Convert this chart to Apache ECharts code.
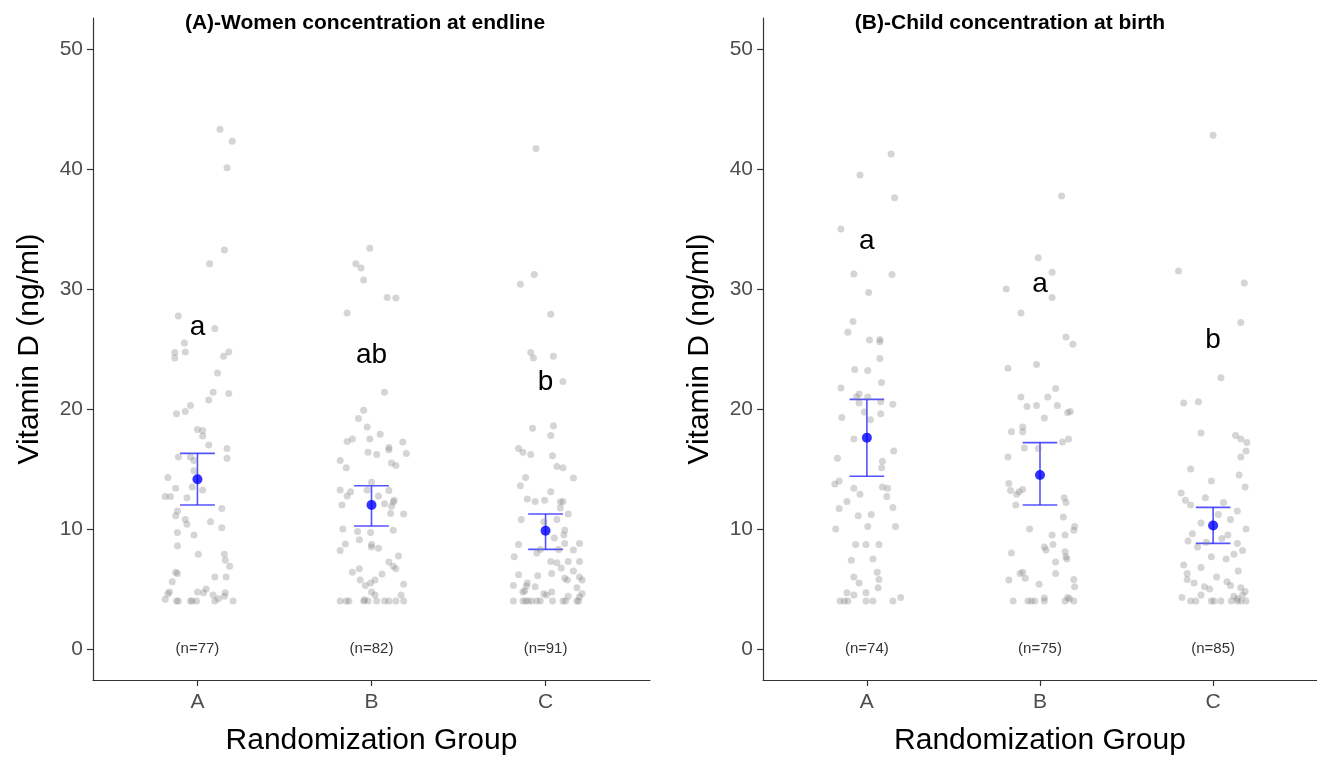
<!DOCTYPE html>
<html>
<head>
<meta charset="utf-8">
<style>
  html, body { margin: 0; padding: 0; background: #fff; }
  #chart { width: 1317px; height: 764px; }
</style>
<script src="https://cdn.jsdelivr.net/npm/echarts@6.0.0/dist/echarts.min.js"></script>
</head>
<body>
<div id="chart"></div>
<script>
// groups on the x axis
const groups = ['A', 'B', 'C'];
const yTicks = [0, 10, 20, 30, 40, 50];

// jittered observations: [horizontal jitter, vitamin D]
const womenA = [[0.13,43.3],[0.20,42.3],[0.17,40.1],[0.155,33.25],[0.07,32.1],[-0.11,27.75],[0.10,26.7],[-0.075,25.5],[-0.13,24.7],[-0.13,24.25],[-0.07,24.75],[0.15,24.4],[0.18,24.75],[0.115,23.0],[0.09,21.4],[0.18,21.3],[0.065,20.75],[-0.04,20.3],[-0.07,19.8],[-0.12,19.6],
  [0,18.3],[0.03,18.2],[0.03,17.75],[0.065,17.0],[0.17,16.7],[0.17,15.9],[-0.11,16.0],[-0.04,16.0],[-0.02,15.7],[-0.02,14.85],[-0.17,14.3],[-0.125,13.4],[-0.03,13.5],[0.03,13.25],[-0.185,12.7],[-0.155,12.7],[-0.06,12.6],[0.14,11.7],[-0.115,11.5],[-0.125,11.1],[-0.07,10.8],[-0.06,10.4],[0.075,10.6],[0.14,10.1],[-0.115,9.7],[-0.02,9.5],[-0.115,8.6],[0.005,7.9],[0.155,7.9],[0.16,7.4],[0.185,6.9],[-0.125,6.4],[-0.115,6.3],[0.10,6.0],[0.165,6.0],[-0.145,5.6],[-0.16,4.75],[-0.17,4.6],[0,4.75],[0.05,5.0],[0.035,4.7],[0.09,4.5],[0.16,4.7],[0.155,4.4],[-0.185,4.15],[-0.11,4.0],[-0.12,4.0],[-0.04,4.0],[-0.03,4.0],[-0.005,4.0],[0.1,4.0],[0.12,4.2],[0.205,4.0]];
const womenB = [[-0.01,33.4],[-0.09,32.1],[-0.06,31.75],[-0.045,30.75],[0.09,29.3],[0.14,29.25],[-0.14,28.0],[0.075,21.4],[-0.045,19.9],[-0.075,19.2],[-0.025,18.5],[0.05,17.9],[-0.14,17.3],[-0.11,17.5],[-0.01,17.5],[0.1,16.8],[0.1,16.6],[0.18,17.25],[0.2,16.3],[-0.02,16.4],[0.03,16.2],[-0.18,15.7],[0.115,15.5],[0.14,15.3],[-0.145,15.1],[0,13.9],[-0.18,13.25],[-0.12,13.1],[-0.14,12.75],[-0.025,13.25],[0.1,13.2],[0.04,12.75],[-0.17,12.0],[0.075,12.1],[0.125,12.25],[0.13,12.4],[0.115,11.9],[0.185,11.25],[0.11,11.3],[-0.165,10.0],[-0.08,9.8],[-0.005,9.7],[0.125,9.9],[-0.15,8.75],[-0.07,9.1],[0,8.7],[0,8.5],[0.04,8.4],[-0.18,8.2],[0.155,7.75],[0.1,7.25],[0.125,6.9],[0.14,6.7],[-0.11,6.4],[-0.07,6.7],[0.06,6.25],[-0.065,5.75],[-0.005,5.5],[-0.035,5.3],[0.02,5.75],[0.185,5.4],[0,4.75],[0.02,4.5],[0.17,4.5],[-0.18,4.0],[-0.145,4.0],[-0.13,4.0],[-0.045,4.0],[-0.04,4.1],[-0.02,4.0],[0.03,4.0],[0.075,4.0],[0.1,4.0],[0.14,4.0],[0.185,4.0]];
const womenC = [[-0.055,41.7],[-0.065,31.2],[-0.145,30.4],[0.03,27.9],[-0.085,24.7],[-0.07,24.25],[0.045,24.4],[0.1,22.3],[-0.075,18.4],[0.045,18.6],[0.03,17.8],[-0.155,16.7],[-0.13,16.4],[-0.085,16.2],[0.04,16.1],[0.065,15.2],[0.1,15.1],[0.16,14.25],[-0.115,14.3],[-0.145,13.6],[0.03,13.1],[-0.105,12.5],[-0.06,12.3],[-0.005,12.4],[0.085,12.25],[0.1,12.3],[0.085,11.75],[0.13,11.25],[-0.14,10.8],[0.065,10.8],[-0.01,10.6],[0.11,9.9],[0.105,9.5],[0.05,9.25],[0.11,8.8],[0.195,8.8],[-0.155,8.7],[-0.05,8.0],[-0.03,8.3],[0.075,8.3],[0.16,8.25],[-0.18,7.7],[0.03,7.3],[0.065,7.2],[0.13,7.3],[0.195,7.3],[0.09,6.75],[0.035,6.3],[-0.155,6.2],[-0.045,6.1],[0.16,6.5],[0.11,5.9],[0.125,5.75],[0.195,6.0],[0.21,5.75],[-0.185,5.3],[-0.105,5.5],[-0.11,5.25],[-0.06,5.2],[-0.12,4.85],[-0.13,4.75],[0.035,4.75],[0.18,5.1],[-0.01,4.6],[0.005,4.5],[0.13,4.4],[0.21,4.6],[0.195,4.35],[-0.185,4.0],[-0.13,4.0],[-0.115,4.0],[-0.1,4.0],[-0.08,4.0],[-0.05,4.0],[-0.03,4.0],[0.04,4.0],[0.1,4.0],[0.115,4.0],[0.18,4.0],[0.19,4.0]];
const childA = [[0.14,41.25],[-0.04,39.5],[0.16,37.6],[-0.15,35.0],[-0.075,31.25],[0.145,31.2],[0.01,29.7],[-0.08,27.3],[-0.11,26.4],[0.015,25.75],[0.075,25.8],[0.075,25.6],[0.075,24.2],[-0.07,23.3],[0.005,23.2],[0.085,22.2],[-0.15,21.75],[-0.045,21.25],[-0.06,21.0],[0.005,21.0],[-0.045,20.5],[0.08,20.6],[0.15,20.4],[-0.015,19.75],[0.08,19.6],[-0.145,19.3],[0.02,19.1],[-0.075,17.5],[0.155,16.5],[-0.17,15.9],[0.09,15.65],[0.085,15.1],[-0.185,13.75],[-0.16,14.0],[-0.075,13.4],[0.09,13.5],[0.12,13.4],[-0.04,12.9],[0.115,12.7],[-0.115,12.3],[-0.16,11.7],[0.15,11.8],[-0.05,11.1],[0.025,11.2],[-0.18,10.0],[0.005,10.2],[0.165,10.2],[-0.065,8.7],[-0.005,8.7],[0.07,8.7],[-0.09,7.4],[0.035,7.5],[0.06,6.4],[-0.075,6.0],[0.07,5.8],[-0.045,5.5],[0.065,5.1],[-0.115,4.7],[-0.075,4.5],[-0.005,4.7],[0.195,4.3],[-0.155,4.0],[-0.13,4.0],[-0.11,4.0],[-0.005,4.0],[0.035,4.0],[0.15,4.0]];
const childB = [[0.125,37.75],[-0.01,32.6],[0.07,31.4],[-0.195,30.0],[0.07,29.3],[-0.11,28.0],[0.15,26.0],[0.19,25.4],[-0.185,23.4],[-0.02,23.7],[0.09,21.7],[-0.11,21.0],[0.045,21.0],[-0.075,20.2],[-0.02,20.3],[0.1,20.3],[0.16,19.7],[0.175,19.8],[0.025,19.25],[-0.165,18.1],[-0.1,18.5],[-0.1,18.1],[0.13,17.25],[0.165,17.5],[-0.09,16.75],[-0.01,16.7],[-0.185,16.0],[-0.18,13.8],[-0.17,13.2],[-0.135,12.9],[-0.1,13.3],[-0.12,13.1],[-0.14,12.0],[0.14,12.6],[0.15,12.2],[0.135,11.0],[-0.06,10.0],[0.07,9.5],[0.145,9.5],[0.195,9.9],[0.2,10.2],[0.025,8.5],[0.035,8.25],[0.075,8.7],[-0.165,8.0],[0.145,8.1],[0.15,7.7],[0.155,7.5],[0.09,7.25],[-0.115,6.3],[-0.1,6.4],[-0.085,5.9],[0.09,6.3],[-0.18,5.75],[-0.005,5.4],[0.195,5.8],[0.2,5.2],[0.16,4.3],[0.17,4.2],[-0.155,4.0],[-0.07,4.0],[-0.05,4.0],[-0.03,4.0],[0.025,4.0],[0.025,4.25],[0.145,4.0],[0.195,4.0]];
const childC = [[0,42.8],[-0.2,31.5],[0.18,30.5],[0.16,27.2],[0.045,22.6],[-0.17,20.5],[-0.085,20.6],[-0.07,18.0],[0.13,17.8],[0.16,17.5],[0.195,17.2],[0.19,16.5],[0.16,16.0],[-0.13,15.0],[0.15,14.5],[-0.01,14.0],[0.185,13.5],[-0.185,13.0],[-0.045,12.6],[0.06,12.2],[-0.13,12.0],[-0.16,12.4],[0.14,11.5],[0.03,11.2],[0.1,10.8],[-0.07,10.5],[0.19,10.0],[-0.12,9.6],[0.085,9.5],[0.05,9.2],[-0.145,9.0],[-0.04,8.9],[0.14,8.8],[-0.09,8.5],[0.17,8.2],[0.12,7.9],[-0.01,7.7],[0.075,7.5],[-0.17,7.0],[-0.07,6.8],[0.145,6.5],[-0.15,6.3],[0.02,6.0],[-0.15,5.8],[0.08,5.6],[-0.11,5.5],[0.1,5.3],[-0.05,5.2],[0.16,5.1],[-0.02,5.0],[0.185,4.8],[-0.07,4.5],[0.17,4.5],[0.12,4.4],[-0.18,4.3],[0.14,4.2],[-0.13,4.0],[-0.1,4.0],[-0.01,4.0],[0.005,4.0],[0.045,4.0],[0.105,4.0],[0.14,4.0],[0.16,4.0],[0.19,4.0]];

// group means with error bar limits
const womenMean = [14.15, 12.0, 9.85];
const womenLow = [12.0, 10.25, 8.3];
const womenHigh = [16.3, 13.6, 11.25];
const childMean = [17.6, 14.5, 10.3];
const childLow = [14.4, 12.0, 8.8];
const childHigh = [20.8, 17.2, 11.8];

// significance letters and their heights
const womenLetters = ['a', 'ab', 'b'];
const womenLetterY = [26.8, 24.5, 22.2];
const childLetters = ['a', 'a', 'b'];
const childLetterY = [34.0, 30.4, 25.75];

// sample sizes
const womenN = [77, 82, 91];
const childN = [74, 75, 85];

const FONT = "'Liberation Sans', Arial, sans-serif";

function jitterData(lists) {
    let out = [];
    lists.forEach((list, gi) => {
        list.forEach(p => out.push([gi + 1 + p[0], p[1]]));
    });
    return out;
}

function makeAxes(idx) {
    let xAxis = {
        type: 'value', gridIndex: idx, min: 0.4, max: 3.6,
        axisLine: { show: true, onZero: false, lineStyle: { color: '#333', width: 1.2 } },
        axisTick: { show: true, length: 6, customValues: [1, 2, 3], lineStyle: { color: '#333', width: 1.2 } },
        axisLabel: {
            customValues: [1, 2, 3], formatter: v => groups[Math.round(v) - 1],
            color: '#4d4d4d', fontSize: 21, fontFamily: FONT, margin: 12
        },
        splitLine: { show: false },
        name: 'Randomization Group', nameLocation: 'middle', nameGap: 46,
        nameTextStyle: { fontSize: 30, color: '#000', fontFamily: FONT }
    };
    let yAxis = {
        type: 'value', gridIndex: idx, min: -2.58, max: 52.58,
        axisLine: { show: true, onZero: false, lineStyle: { color: '#333', width: 1.2 } },
        axisTick: { show: true, length: 6, customValues: yTicks, lineStyle: { color: '#333', width: 1.2 } },
        axisLabel: { customValues: yTicks, color: '#4d4d4d', fontSize: 21, fontFamily: FONT, margin: 10 },
        splitLine: { show: false },
        name: 'Vitamin D (ng/ml)', nameLocation: 'middle', nameGap: 48,
        nameTextStyle: { fontSize: 30, color: '#000', fontFamily: FONT }
    };
    return [xAxis, yAxis];
}

function makeSeries(idx, points, mean, low, high, letters, letterY, ns) {
    let errData = mean.map((m, i) => [i + 1, low[i], high[i]]);
    let meanData = mean.map((m, i) => [i + 1, m]);
    let letterData = letters.map((t, i) => [i + 1, letterY[i], t]);
    let nData = ns.map((n, i) => [i + 1, 0, '(n=' + n + ')']);

    let textSeries = (data, size) => ({
        type: 'custom', xAxisIndex: idx, yAxisIndex: idx, silent: true,
        data: data,
        encode: { x: 0, y: 1 },
        renderItem: (params, api) => {
            let pt = api.coord([api.value(0), api.value(1)]);
            return {
                type: 'text', x: pt[0], y: pt[1],
                style: {
                    text: data[params.dataIndex][2], fill: size > 20 ? '#000' : '#333',
                    font: size + 'px ' + FONT, align: 'center', verticalAlign: 'middle'
                }
            };
        }
    });

    return [
        {
            type: 'scatter', xAxisIndex: idx, yAxisIndex: idx, silent: true,
            data: jitterData(points), symbolSize: 7,
            itemStyle: { color: 'rgba(130,130,130,0.42)' }
        },
        {
            type: 'custom', xAxisIndex: idx, yAxisIndex: idx, silent: true,
            data: errData,
            encode: { x: 0, y: [1, 2] },
            renderItem: (params, api) => {
                let x = api.value(0);
                let lo = api.coord([x, api.value(1)]);
                let hi = api.coord([x, api.value(2)]);
                let loL = api.coord([x - 0.1, api.value(1)]);
                let loR = api.coord([x + 0.1, api.value(1)]);
                let hiL = api.coord([x - 0.1, api.value(2)]);
                let hiR = api.coord([x + 0.1, api.value(2)]);
                let st = { stroke: 'rgba(40,40,255,0.8)', lineWidth: 1.6 };
                return {
                    type: 'group', children: [
                        { type: 'line', shape: { x1: lo[0], y1: lo[1], x2: hi[0], y2: hi[1] }, style: st },
                        { type: 'line', shape: { x1: loL[0], y1: loL[1], x2: loR[0], y2: loR[1] }, style: st },
                        { type: 'line', shape: { x1: hiL[0], y1: hiL[1], x2: hiR[0], y2: hiR[1] }, style: st }
                    ]
                };
            }
        },
        {
            type: 'scatter', xAxisIndex: idx, yAxisIndex: idx, silent: true,
            data: meanData, symbolSize: 10, z: 5,
            itemStyle: { color: '#0000ff' }
        },
        textSeries(letterData, 28),
        textSeries(nData, 15)
    ];
}

let chart = echarts.init(document.getElementById('chart'));
let axesA = makeAxes(0);
let axesB = makeAxes(1);

let option = {
    animation: false,
    backgroundColor: '#fff',
    grid: [
        { left: 93, right: 667, top: 18, bottom: 84 },
        { left: 763, right: 0, top: 18, bottom: 84 }
    ],
    xAxis: [axesA[0], axesB[0]],
    yAxis: [axesA[1], axesB[1]],
    graphic: [
        { type: 'text', x: 365, y: 23, style: { text: '(A)-Women concentration at endline', font: 'bold 21px ' + FONT, fill: '#000', align: 'center', verticalAlign: 'middle' } },
        { type: 'text', x: 1010, y: 23, style: { text: '(B)-Child concentration at birth', font: 'bold 21px ' + FONT, fill: '#000', align: 'center', verticalAlign: 'middle' } }
    ],
    series: [].concat(
        makeSeries(0, [womenA, womenB, womenC], womenMean, womenLow, womenHigh, womenLetters, womenLetterY, womenN),
        makeSeries(1, [childA, childB, childC], childMean, childLow, childHigh, childLetters, childLetterY, childN)
    )
};

try {
    chart.setOption(option);
} catch (e) {
    console.log(e);
}
</script>
</body>
</html>
